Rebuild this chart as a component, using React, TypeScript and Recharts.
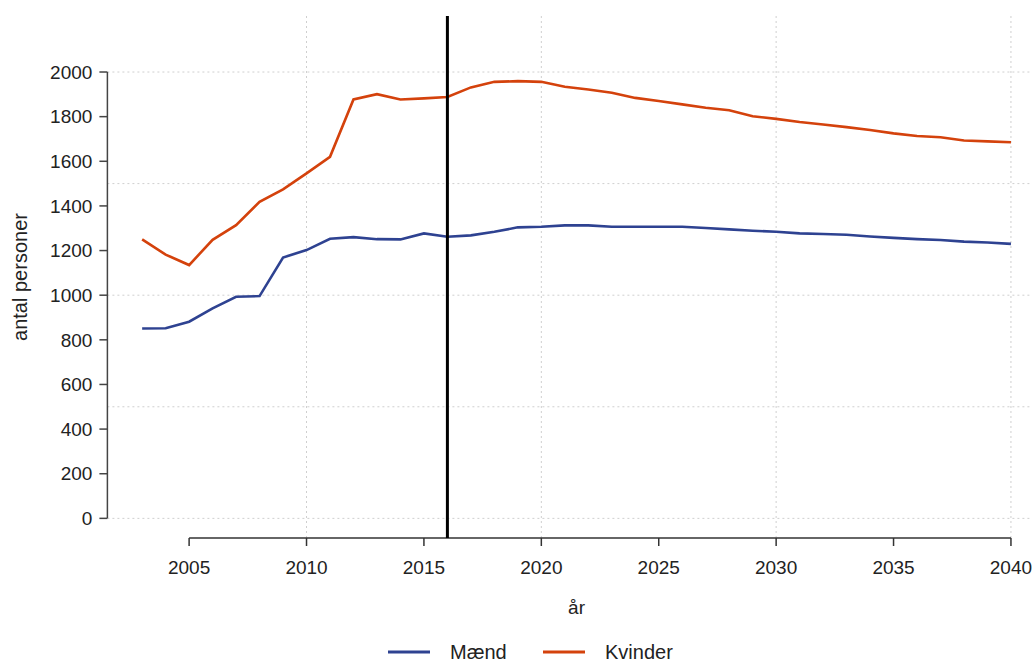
import { LineChart, Line, XAxis, YAxis, CartesianGrid, ReferenceLine, Legend } from "recharts";

const years = [
  2003, 2004, 2005, 2006, 2007, 2008, 2009, 2010, 2011, 2012, 2013, 2014, 2015, 2016, 2017, 2018, 2019, 2020, 2021,
  2022, 2023, 2024, 2025, 2026, 2027, 2028, 2029, 2030, 2031, 2032, 2033, 2034, 2035, 2036, 2037, 2038, 2039, 2040,
];

const maend = [
  851, 852, 881, 941, 993, 996, 1169, 1202, 1253, 1260, 1251, 1250, 1277, 1262, 1268, 1284, 1304, 1307, 1313,
  1313, 1307, 1307, 1307, 1307, 1301, 1295, 1289, 1284, 1277, 1274, 1271, 1263, 1257, 1251, 1247, 1240, 1236, 1230,
];

const kvinder = [
  1250, 1182, 1135, 1248, 1314, 1418, 1474, 1546, 1620, 1877, 1901, 1877, 1882, 1888, 1931, 1956, 1959, 1956, 1934,
  1922, 1907, 1884, 1870, 1855, 1840, 1829, 1802, 1790, 1776, 1765, 1753, 1740, 1725, 1713, 1708, 1693, 1689, 1685,
];

const xTicks = [2005, 2010, 2015, 2020, 2025, 2030, 2035, 2040];
const yTicks = [0, 200, 400, 600, 800, 1000, 1200, 1400, 1600, 1800, 2000];
const gridYears = [2010, 2020, 2030, 2040];
const gridValues = [0, 500, 1000, 1500, 2000];

const series = [
  { key: "maend", name: "Mænd", color: "#2E4291" },
  { key: "kvinder", name: "Kvinder", color: "#D4420C" },
];

const data = years.map((year, i) => ({ year, maend: maend[i], kvinder: kvinder[i] }));

const FONT = "'Liberation Sans', Arial, sans-serif";
const X_DOMAIN = [2001.52, 2041.48];
const Y_DOMAIN = [-88, 2251];

const YTitle = (props: any) => {
  const vb = props.viewBox || {};
  const cy = vb.y + vb.height / 2;
  return (
    <text x={20} y={cy} transform={`rotate(-90, 20, ${cy})`} textAnchor="middle" dominantBaseline="central" fontSize={20} fill="#222">
      antal personer
    </text>
  );
};

const XTitle = (props: any) => {
  const vb = props.viewBox || {};
  const cx = vb.x + vb.width / 2;
  return (
    <text x={cx} y={614} textAnchor="middle" fontSize={19} fill="#222">
      år
    </text>
  );
};

const LegendBox = () => (
  <div style={{ position: "relative", height: 40, width: 1032, fontFamily: FONT, fontSize: 20, color: "#222" }}>
    {series.map((s, i) => (
      <div
        key={s.key}
        style={{ position: "absolute", left: i === 0 ? 388 : 543, top: 18, display: "flex", alignItems: "center", height: 24 }}
      >
        <svg width={42} height={4}>
          <line x1={0} y1={2} x2={42} y2={2} stroke={s.color} strokeWidth={3} />
        </svg>
        <span style={{ marginLeft: 20 }}>{s.name}</span>
      </div>
    ))}
  </div>
);

export default function App() {
  return (
    <div style={{ position: "absolute", left: 0, top: 0, width: 1032, height: 662, overflow: "hidden", background: "#fff" }}>
      <LineChart
        width={1056}
        height={662}
        data={data}
        margin={{ top: 16, right: 10.3, bottom: 0, left: 0 }}
        style={{ fontFamily: FONT }}
      >
        <CartesianGrid
          stroke="#cfcfcf"
          strokeDasharray="2 3"
          horizontalValues={gridValues}
          verticalValues={gridYears}
        />
        <XAxis
          dataKey="year"
          type="number"
          domain={X_DOMAIN}
          allowDataOverflow
          ticks={xTicks}
          interval={0}
          axisLine={false}
          tickLine={{ stroke: "#333", strokeWidth: 1.5 }}
          tickSize={8}
          tickMargin={15}
          height={84}
          tick={{ fill: "#222", fontSize: 19 }}
          label={<XTitle />}
        />
        <YAxis
          type="number"
          domain={Y_DOMAIN}
          allowDataOverflow
          ticks={yTicks}
          interval={0}
          axisLine={false}
          tickLine={{ stroke: "#444", strokeWidth: 1.5 }}
          tickSize={8}
          tickMargin={7}
          width={107.4}
          tick={{ fill: "#222", fontSize: 19 }}
          label={<YTitle />}
        />
        <ReferenceLine
          segment={[{ x: X_DOMAIN[0], y: 0 }, { x: X_DOMAIN[0], y: 2000 }]}
          stroke="#444"
          strokeWidth={1.5}
          ifOverflow="visible"
        />
        <ReferenceLine
          segment={[{ x: 2005, y: Y_DOMAIN[0] }, { x: 2040, y: Y_DOMAIN[0] }]}
          stroke="#333"
          strokeWidth={1.5}
          ifOverflow="visible"
        />
        {series.map((s) => (
          <Line
            key={s.key}
            dataKey={s.key}
            name={s.name}
            stroke={s.color}
            strokeWidth={2.6}
            dot={false}
            isAnimationActive={false}
          />
        ))}
        <ReferenceLine x={2016} stroke="#000" strokeWidth={3} ifOverflow="visible" />
        <Legend verticalAlign="bottom" content={<LegendBox />} wrapperStyle={{ left: 0, bottom: 0, width: 1032 }} />
      </LineChart>
    </div>
  );
}
